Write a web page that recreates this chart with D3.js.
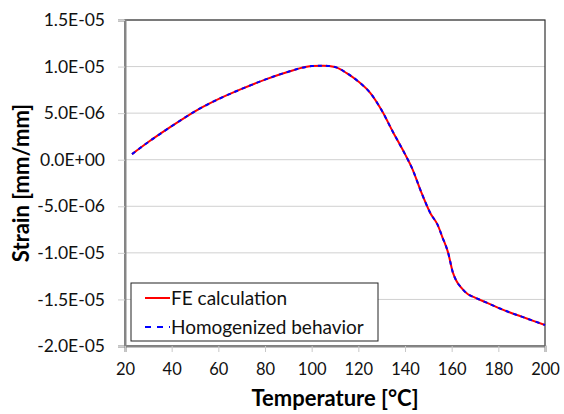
<!DOCTYPE html>
<html><head><meta charset="utf-8">
<script src="https://cdn.jsdelivr.net/npm/d3@7"></script>
<style>
body{margin:0;background:#fff;}
svg{display:block;font-family:Lato,"Open Sans",sans-serif;}
</style></head>
<body><svg id="c" width="564" height="414"></svg>
<script>
const temperatures = [23,30,40,50,60,70,80,90,100,105,110,115,120,125,130,135,140,143,147,151,154,156,158.5,160.5,162,164,167,170,175,180,185,190,195,200];
const feStrain = [0.6,1.9,3.6,5.2,6.5,7.6,8.6,9.45,10.05,10.1,9.95,9.3,8.4,7.2,5.3,2.9,0.6,-0.9,-3.5,-5.8,-7.0,-8.3,-10.0,-12.1,-13.0,-13.7,-14.45,-14.8,-15.35,-15.9,-16.4,-16.85,-17.3,-17.75].map(v=>v*1e-6);
const homStrain = feStrain.slice();
const xTicks = [20,40,60,80,100,120,140,160,180,200];
const yTicks = [-2e-5,-1.5e-5,-1e-5,-5e-6,0,5e-6,1e-5,1.5e-5];
const seriesNames = ["FE calculation","Homogenized behavior"];

const svg = d3.select("#c");
const L=125,R=545,T=20,B=346;
const x = d3.scaleLinear().domain([20,200]).range([L,R]);
const y = d3.scaleLinear().domain([-2e-5,1.5e-5]).range([B,T]);
const fmt = v => { if(v===0) return "0.0E+00"; const e=Math.floor(Math.log10(Math.abs(v))+1e-9); const m=v/Math.pow(10,e); return m.toFixed(1)+"E-"+String(-e).padStart(2,"0"); };

svg.append("g").selectAll("line").data(yTicks).join("line")
 .attr("x1",L).attr("x2",R).attr("y1",d=>y(d)).attr("y2",d=>y(d))
 .attr("stroke","#d0d0d0").attr("stroke-width",1);
svg.append("rect").attr("x",L).attr("y",T).attr("width",R-L).attr("height",B-T)
 .attr("fill","none").attr("stroke","#333").attr("stroke-width",1.2);

const yAxis = svg.append("g").attr("transform",`translate(${L},0)`)
 .call(d3.axisLeft(y).tickValues(yTicks).tickFormat(fmt).tickSize(7).tickPadding(13));
const xAxis = svg.append("g").attr("transform",`translate(0,${B})`)
 .call(d3.axisBottom(x).tickValues(xTicks).tickSize(6).tickPadding(11));
[yAxis,xAxis].forEach(a=>{
 a.select(".domain").attr("stroke","#868686").attr("stroke-width",2);
 a.selectAll(".tick line").attr("stroke","#d0d0d0");
 a.selectAll("text").attr("fill","#111").attr("font-family","Lato");
});
yAxis.selectAll("text").attr("font-size",17.5);
xAxis.selectAll("text").attr("font-size",16.5);
xAxis.selectAll(".tick line").attr("stroke","#c8c8c8");

const line = d3.line().x((d,i)=>x(temperatures[i])).y(d=>y(d)).curve(d3.curveMonotoneX);
svg.append("path").datum(feStrain).attr("d",line).attr("fill","none").attr("stroke","#ff0000").attr("stroke-width",2);
svg.append("path").datum(homStrain).attr("d",line).attr("fill","none").attr("stroke","#0000ff").attr("stroke-width",2).attr("stroke-dasharray","4,4");

svg.append("text").attr("x",(L+R)/2).attr("y",406).attr("text-anchor","middle")
 .attr("font-weight","bold").attr("font-size",22).text("Temperature [°C]");
svg.append("text").attr("transform",`translate(29,${(T+B)/2}) rotate(-90)`).attr("text-anchor","middle")
 .attr("font-weight","bold").attr("font-size",22).text("Strain [mm/mm]");

const lg = svg.append("g");
lg.append("rect").attr("x",131).attr("y",283).attr("width",247).attr("height",58)
 .attr("fill","#fff").attr("stroke","#222").attr("stroke-width",1);
const colors=["#ff0000","#0000ff"], dashes=[null,"6,6"];
seriesNames.forEach((n,i)=>{
 const yy = 298 + i*29;
 lg.append("line").attr("x1",145).attr("x2",170).attr("y1",yy).attr("y2",yy)
  .attr("stroke",colors[i]).attr("stroke-width",2).attr("stroke-dasharray",dashes[i]);
 lg.append("text").attr("x",171).attr("y",yy+6.5).attr("font-size",19).attr("fill","#111").text(n);
});
</script></body></html>
